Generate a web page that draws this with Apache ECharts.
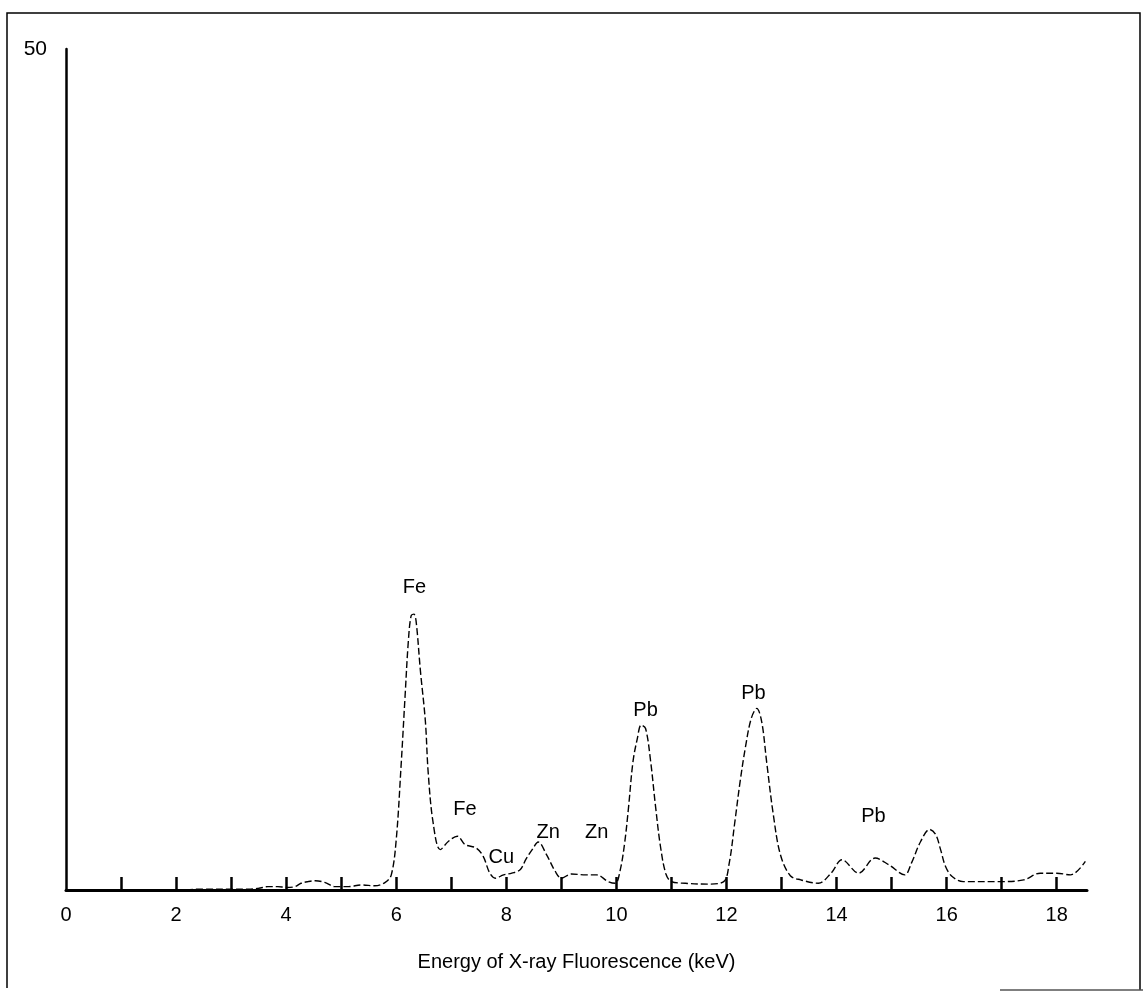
<!DOCTYPE html>
<html>
<head>
<meta charset="utf-8">
<script src="https://cdn.jsdelivr.net/npm/echarts@6/dist/echarts.min.js"></script>
<style>
html,body{margin:0;padding:0;background:#fff;}
#chart{width:1143px;height:992px;}
</style>
</head>
<body>
<div id="chart"></div>
<script>
// Energy (keV) and counts of the spectrum trace
const energy = [0, 0.5, 1, 1.5, 2, 2.5, 3, 3.3, 3.5, 3.67, 3.85, 4.0, 4.16, 4.27, 4.4, 4.53, 4.7, 4.89, 5.13, 5.37, 5.61, 5.8, 5.91,
  6.0, 6.09, 6.16, 6.22, 6.27, 6.32, 6.36, 6.44, 6.53, 6.58, 6.67, 6.8, 6.95, 7.11, 7.25, 7.45, 7.58, 7.7, 7.8, 7.95,
  8.1, 8.25, 8.36, 8.47, 8.58, 8.73, 8.89, 9.0, 9.18, 9.44, 9.64, 9.85, 9.98, 10.07, 10.15, 10.22, 10.3, 10.38, 10.45,
  10.53, 10.62, 10.71, 10.8, 10.9, 11.0, 11.25, 11.67, 11.95, 12.05, 12.15, 12.25, 12.35, 12.45, 12.55, 12.64, 12.73,
  12.85, 12.98, 13.16, 13.35, 13.67, 13.9, 14.1, 14.4, 14.7, 14.95, 15.24, 15.36, 15.53, 15.69, 15.8, 15.89, 15.98,
  16.1, 16.3, 17.0, 17.4, 17.7, 18.0, 18.25, 18.52];
const counts = [0, 0, 0, 0, 0, 0.05, 0.05, 0.05, 0.1, 0.2, 0.2, 0.15, 0.2, 0.4, 0.5, 0.55, 0.45, 0.2, 0.2, 0.3, 0.25, 0.45, 0.9,
  3.0, 7.5, 11.5, 14.8, 16.3, 16.4, 16.0, 13.0, 10.0, 7.0, 4.0, 2.4, 2.9, 3.2, 2.7, 2.5, 2.0, 1.0, 0.7, 0.9,
  1.0, 1.2, 1.85, 2.4, 2.85, 2.1, 1.1, 0.7, 0.95, 0.9, 0.9, 0.5, 0.4, 1.2, 2.8, 4.9, 7.6, 9.0, 9.8,
  9.6, 7.7, 5.0, 2.6, 0.95, 0.5, 0.4, 0.35, 0.5, 1.6, 4.0, 6.5, 8.6, 10.2, 10.8, 10.0, 7.6,
  4.5, 2.1, 0.85, 0.6, 0.4, 1.0, 1.8, 1.0, 1.9, 1.5, 0.9, 1.6, 2.9, 3.6, 3.3, 2.4, 1.4,
  0.8, 0.5, 0.5, 0.6, 1.0, 1.0, 0.9, 1.7];

// Peak annotations
const peakNames = ['Fe', 'Fe', 'Cu', 'Zn', 'Zn', 'Pb', 'Pb', 'Pb'];
const peakLabelX = [6.33, 7.25, 7.91, 8.76, 9.64, 10.53, 12.49, 14.67];
const peakLabelY = [18.0, 4.76, 1.96, 3.4, 3.4, 10.7, 11.7, 4.4];

// Axis ticks and labels
const xTickValues = [1, 2, 3, 4, 5, 6, 7, 8, 9, 10, 11, 12, 13, 14, 15, 16, 17, 18];
const xLabelValues = [0, 2, 4, 6, 8, 10, 12, 14, 16, 18];
const yMax = 50;

const FONT = 'Liberation Sans, Arial, sans-serif';
const chart = echarts.init(document.getElementById('chart'), null, {renderer: 'canvas'});

const lineData = energy.map((e, i) => [e, counts[i]]);
const labelData = peakNames.map((n, i) => [peakLabelX[i], peakLabelY[i], n]);

chart.setOption({
  animation: false,
  backgroundColor: '#fff',
  grid: {left: 66, right: 56, top: 49, bottom: 102},
  xAxis: {
    type: 'value', min: 0, max: 18.55, interval: 1,
    splitLine: {show: false},
    axisLine: {show: true, onZero: false, lineStyle: {color: '#000', width: 3}},
    axisTick: {show: true, inside: true, length: 13, customValues: xTickValues, lineStyle: {color: '#000', width: 2.5}},
    axisLabel: {show: true, customValues: xLabelValues, margin: 15, color: '#000', fontFamily: FONT, fontSize: 20},
    name: 'Energy of X-ray Fluorescence (keV)',
    nameLocation: 'middle', nameGap: 62,
    nameTextStyle: {color: '#000', fontFamily: FONT, fontSize: 20}
  },
  yAxis: {
    type: 'value', min: 0, max: yMax, interval: 50,
    splitLine: {show: false},
    axisLine: {show: true, lineStyle: {color: '#000', width: 2.5}},
    axisTick: {show: false},
    axisLabel: {
      show: true, margin: 19, color: '#000', fontFamily: FONT, fontSize: 21,
      padding: [6, 0, 0, 0],
      formatter: v => (v === yMax ? String(v) : '')
    }
  },
  series: [
    {
      type: 'line', data: lineData, smooth: 0.35, symbol: 'none',
      lineStyle: {color: '#000', width: 1.4, type: [7, 3]}
    },
    {
      type: 'scatter', data: labelData, symbolSize: 0.1,
      itemStyle: {color: 'rgba(0,0,0,0)'},
      label: {
        show: true, position: 'inside', color: '#000', fontFamily: FONT, fontSize: 20,
        textBorderWidth: 0, opacity: 1,
        formatter: p => p.data[2]
      }
    }
  ],
  graphic: [
    {type: 'polyline', shape: {points: [[7, 988], [7, 13], [1140, 13], [1140, 990]]},
     style: {stroke: '#000', lineWidth: 1.5, fill: null}, silent: true},
    {type: 'line', shape: {x1: 1000, y1: 990, x2: 1143, y2: 990},
     style: {stroke: '#555', lineWidth: 1.5}, silent: true}
  ]
});
</script>
</body>
</html>
